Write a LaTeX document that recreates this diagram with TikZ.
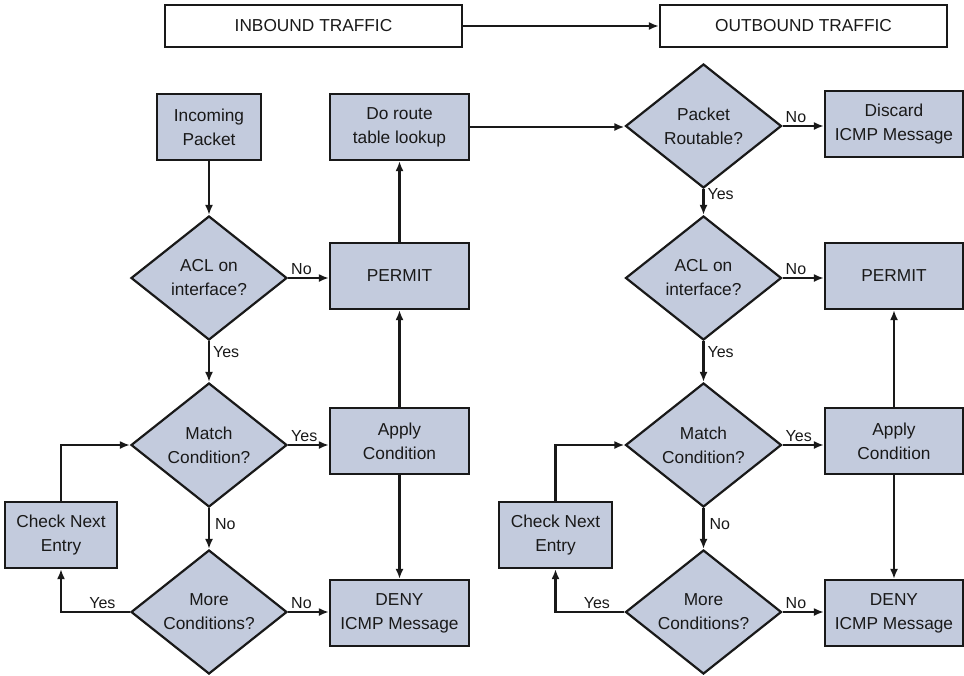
\documentclass[tikz,border=0pt]{standalone}
\usepackage{fontspec}
\setmainfont{Liberation Sans}
\usetikzlibrary{shapes.geometric,arrows.meta}
\definecolor{boxfill}{RGB}{195,203,221}
\definecolor{ink}{RGB}{25,25,25}
\begin{document}
\begin{tikzpicture}[x=1pt,y=-1pt,
  every node/.style={font=\fontsize{17.3}{24}\selectfont, text=ink},
  procbox/.style={draw=ink, line width=2.2pt, fill=boxfill, align=center, inner sep=0pt},
  headbox/.style={draw=ink, line width=2.2pt, fill=white, minimum height=42pt, inner sep=0pt},
  decision/.style={draw=ink, line width=2.2pt, fill=boxfill, diamond, minimum width=156pt, minimum height=124pt, inner sep=0pt},
  conn/.style={draw=ink, line width=2.2pt, -{Latex[length=10pt,width=8pt]}},
  lbl/.style={font=\fontsize{16}{19}\selectfont, inner sep=2pt}
]
\useasboundingbox (0,0) rectangle (964,675);

% header
\node[headbox, minimum width=297pt] (inb) at (313.5,26) {INBOUND TRAFFIC};
\node[headbox, minimum width=287pt] (outb) at (803.5,26) {OUTBOUND TRAFFIC};
\draw[conn] (inb.east) -- (outb.west);

% left (inbound)
\node[procbox, minimum width=104pt, minimum height=66pt] (inc) at (209,127) {Incoming\\Packet};
\node[procbox, minimum width=139pt, minimum height=66pt] (route) at (399.5,127) {Do route\\table lookup};
\node[decision, label={[align=center]center:{ACL on\\interface?}}] (acl1) at (209,278) {};
\node[procbox, minimum width=139pt, minimum height=66pt] (permit1) at (399.5,276) {PERMIT};
\node[decision, label={[align=center]center:{Match\\Condition?}}] (match1) at (209,445) {};
\node[procbox, minimum width=139pt, minimum height=66pt] (apply1) at (399.5,441) {Apply\\Condition};
\node[procbox, minimum width=112pt, minimum height=66pt] (check1) at (61,535) {Check Next\\Entry};
\node[decision, label={[align=center]center:{More\\Conditions?}}] (more1) at (209,612) {};
\node[procbox, minimum width=139pt, minimum height=66pt] (deny1) at (399.5,613) {DENY\\ICMP Message};

\draw[conn] (inc.south) -- (acl1.north);
\draw[conn] (acl1.east) -- node[lbl, pos=0, anchor=south west] {No} (acl1.east -| permit1.west);
\draw[conn] (acl1.south) -- node[lbl, pos=0.05, anchor=north west, xshift=1pt] {Yes} (match1.north);
\draw[conn] (match1.east) -- node[lbl, pos=0, anchor=south west] {Yes} (match1.east -| apply1.west);
\draw[conn] (match1.south) -- node[lbl, pos=0.4, anchor=west, xshift=3pt] {No} (more1.north);
\draw[conn] (more1.east) -- node[lbl, pos=0, anchor=south west] {No} (more1.east -| deny1.west);
\draw[conn] (more1.west) -| node[lbl, pos=0.2, anchor=south] {Yes} (check1.south);
\draw[conn] (check1.north) |- (match1.west);
\draw[conn] (apply1.north) -- (permit1.south);
\draw[conn] (apply1.south) -- (deny1.north);
\draw[conn] (permit1.north) -- (route.south);

% right (outbound)
\node[decision, label={[align=center]center:{Packet\\Routable?}}] (pr) at (703.5,126) {};
\node[procbox, minimum width=138pt, minimum height=66pt] (discard) at (894,124) {Discard\\ICMP Message};
\node[decision, label={[align=center]center:{ACL on\\interface?}}] (acl2) at (703.5,278) {};
\node[procbox, minimum width=138pt, minimum height=66pt] (permit2) at (894,276) {PERMIT};
\node[decision, label={[align=center]center:{Match\\Condition?}}] (match2) at (703.5,445) {};
\node[procbox, minimum width=138pt, minimum height=66pt] (apply2) at (894,441) {Apply\\Condition};
\node[procbox, minimum width=113pt, minimum height=66pt] (check2) at (555.5,535) {Check Next\\Entry};
\node[decision, label={[align=center]center:{More\\Conditions?}}] (more2) at (703.5,612) {};
\node[procbox, minimum width=138pt, minimum height=66pt] (deny2) at (894,613) {DENY\\ICMP Message};

\draw[conn] (route.east) -- (route.east -| pr.west);
\draw[conn] (pr.east) -- node[lbl, pos=0, anchor=south west] {No} (pr.east -| discard.west);
\draw[conn] (pr.south) -- node[lbl, pos=0.2, anchor=west, xshift=1pt] {Yes} (acl2.north);
\draw[conn] (acl2.east) -- node[lbl, pos=0, anchor=south west] {No} (acl2.east -| permit2.west);
\draw[conn] (acl2.south) -- node[lbl, pos=0.05, anchor=north west, xshift=1pt] {Yes} (match2.north);
\draw[conn] (match2.east) -- node[lbl, pos=0, anchor=south west] {Yes} (match2.east -| apply2.west);
\draw[conn] (match2.south) -- node[lbl, pos=0.4, anchor=west, xshift=3pt] {No} (more2.north);
\draw[conn] (more2.east) -- node[lbl, pos=0, anchor=south west] {No} (more2.east -| deny2.west);
\draw[conn] (more2.west) -| node[lbl, pos=0.2, anchor=south] {Yes} (check2.south);
\draw[conn] (check2.north) |- (match2.west);
\draw[conn] (apply2.north) -- (permit2.south);
\draw[conn] (apply2.south) -- (deny2.north);
\end{tikzpicture}
\end{document}
